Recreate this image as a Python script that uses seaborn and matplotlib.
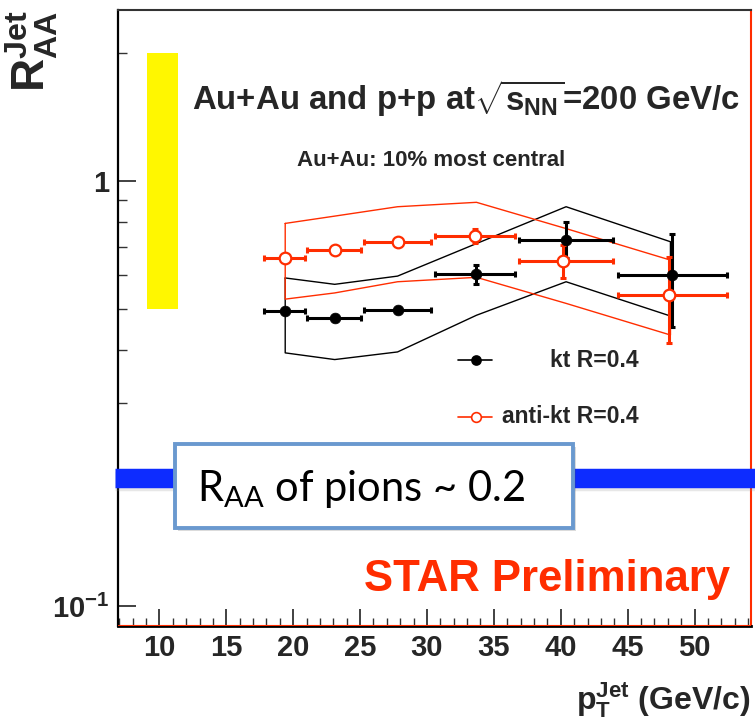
import matplotlib
matplotlib.use("Agg")
import matplotlib.pyplot as plt
import matplotlib.patheffects as pe
from matplotlib.patches import Rectangle
from matplotlib.ticker import FixedLocator, NullFormatter
import numpy as np
import pandas as pd
import seaborn as sns

# ---- data -------------------------------------------------------------
# kt R=0.4 : jet pT (mean of bin), R_AA, stat. limits
kt_pt = [19.4, 23.1, 27.8, 33.7, 40.4, 48.3]
kt_raa = [0.495, 0.475, 0.498, 0.603, 0.724, 0.599]
kt_raa_lo = [0.495, 0.475, 0.493, 0.571, 0.657, 0.454]
kt_raa_hi = [0.495, 0.475, 0.503, 0.634, 0.800, 0.748]

# anti-kt R=0.4
akt_pt = [19.4, 23.1, 27.8, 33.6, 40.2, 48.1]
akt_raa = [0.659, 0.687, 0.719, 0.741, 0.648, 0.539]
akt_raa_lo = [0.659, 0.687, 0.719, 0.713, 0.590, 0.416]
akt_raa_hi = [0.659, 0.687, 0.719, 0.770, 0.706, 0.663]

# jet pT bins shared by both algorithms
bin_lo = [17.8, 21.0, 25.3, 30.6, 36.9, 44.3]
bin_hi = [20.9, 25.1, 30.3, 36.6, 43.9, 52.4]

# systematic uncertainty envelopes
sys_pt = [19.4, 23.1, 27.8, 33.7, 40.4, 48.2]
kt_sys_hi = [0.591, 0.571, 0.597, 0.712, 0.869, 0.719]
kt_sys_lo = [0.394, 0.380, 0.396, 0.483, 0.579, 0.481]
akt_sys_hi = [0.794, 0.826, 0.869, 0.890, 0.772, 0.651]
akt_sys_lo = [0.527, 0.545, 0.579, 0.593, 0.515, 0.434]

# normalisation uncertainty box and pion reference
norm_pt = [9.1, 11.4]
norm_raa = [0.5, 2.0]
pion_raa = 0.2

x_ticks = [10, 15, 20, 25, 30, 35, 40, 45, 50]
y_ticks = [0.1, 1.0]
y_tick_labels = [r"$\mathbf{10^{-1}}$", "1"]

# ---- style --------------------------------------------------------------
sns.set_theme(style="ticks")
plt.rcParams["font.family"] = ["Liberation Sans", "DejaVu Sans"]
plt.rcParams["font.weight"] = "bold"
plt.rcParams["mathtext.fontset"] = "custom"
plt.rcParams["mathtext.rm"] = "Liberation Sans:bold"
plt.rcParams["mathtext.it"] = "Liberation Sans:bold"
plt.rcParams["mathtext.bf"] = "Liberation Sans:bold"
plt.rcParams["mathtext.sf"] = "Lato:normal"

RED = "#ff2d00"
BLACK = "#000000"

fig = plt.figure(figsize=(7.55, 7.21), dpi=100)
ax = fig.add_axes([0.1563, 0.1322, 0.838, 0.8539])
ax.set_yscale("log")
ax.set_xlim(6.9, 54.2)
ax.set_ylim(0.09, 2.52)

# normalisation uncertainty
ax.fill_between(norm_pt, norm_raa[0], norm_raa[1], color="#fff700", lw=0, zorder=1)

# systematic envelopes (closed outlines)
def envelope(x, lo, hi, color):
    xs = list(x) + list(x[::-1]) + [x[0]]
    ys = list(hi) + list(lo[::-1]) + [hi[0]]
    ax.plot(xs, ys, color=color, lw=1.0, zorder=2)

envelope(sys_pt, kt_sys_lo, kt_sys_hi, BLACK)
envelope(sys_pt, akt_sys_lo, akt_sys_hi, RED)

# statistical errors
def stat_bars(x, y, lo, hi, color):
    x = np.array(x); y = np.array(y)
    xerr = [x - np.array(bin_lo), np.array(bin_hi) - x]
    yerr = [y - np.array(lo), np.array(hi) - y]
    ax.errorbar(x, y, xerr=xerr, yerr=yerr, fmt="none", ecolor=color,
                elinewidth=2.2, capsize=2.5, capthick=2.2, zorder=3)

stat_bars(kt_pt, kt_raa, kt_raa_lo, kt_raa_hi, BLACK)
stat_bars(akt_pt, akt_raa, akt_raa_lo, akt_raa_hi, RED)

df_kt = pd.DataFrame({"pt": kt_pt, "raa": kt_raa})
df_akt = pd.DataFrame({"pt": akt_pt, "raa": akt_raa})
sns.scatterplot(data=df_kt, x="pt", y="raa", ax=ax, marker="o", s=60,
                color=BLACK, edgecolor=BLACK, linewidth=0.5, zorder=4)
sns.scatterplot(data=df_akt, x="pt", y="raa", ax=ax, marker="o", s=70,
                facecolor="white", edgecolor=RED, linewidth=1.6, zorder=4)

# pion reference band with soft shadow
ax.axhline(pion_raa, xmin=-0.005, xmax=1.01, color="#0d2cff", lw=14,
           solid_capstyle="butt", clip_on=False, zorder=5,
           path_effects=[pe.SimpleLineShadow(offset=(0, -2), shadow_color="#888888", alpha=0.2),
                         pe.Normal()])

# annotation box
box = Rectangle((0.090, 0.1587), 0.629, 0.136, transform=ax.transAxes,
                facecolor="white", edgecolor="#6a99cf", lw=2.8, zorder=6,
                path_effects=[pe.SimplePatchShadow(offset=(2, -2), alpha=0.2), pe.Normal()])
ax.add_patch(box)
ax.text(0.125, 0.202, r"$\mathsf{R_{AA}}$ of pions ~ 0.2", transform=ax.transAxes,
        fontfamily="Lato", fontweight="normal", fontsize=30, color="black",
        ha="left", va="baseline", zorder=7)

# texts
ax.text(0.117, 0.838, r"Au+Au and p+p at$\mathbf{\sqrt{s_{NN}}}$=200 GeV/c",
        transform=ax.transAxes, fontsize=23.8, fontweight="bold", ha="left", va="baseline")
ax.text(0.283, 0.7466, "Au+Au: 10% most central", transform=ax.transAxes,
        fontsize=16, fontweight="bold", ha="left", va="baseline")
ax.text(0.967, 0.0564, "STAR Preliminary", transform=ax.transAxes,
        fontsize=31.5, fontweight="bold", color=RED, ha="right", va="baseline")

# legend
for yl, mfc, lab, col in [(0.431, BLACK, "kt R=0.4", BLACK), (0.3395, "white", "anti-kt R=0.4", RED)]:
    ax.plot([0.537, 0.591], [yl, yl], transform=ax.transAxes, color=col, lw=1.2, zorder=4)
    ax.plot([0.566], [yl], transform=ax.transAxes, marker="o", ms=6.5 if mfc == BLACK else 7,
            mfc=mfc, mec=col, mew=1.2, zorder=5)
    ax.text(0.823, yl, lab, transform=ax.transAxes, fontsize=16.5, fontweight="bold",
            ha="right", va="center")

# axes, ticks
ax.xaxis.set_major_locator(FixedLocator(x_ticks))
ax.xaxis.set_minor_locator(FixedLocator(np.arange(7, 55, 1)))
ax.set_xticklabels([str(t) for t in x_ticks])
ax.yaxis.set_major_locator(FixedLocator(y_ticks))
ax.yaxis.set_minor_locator(FixedLocator([0.2, 0.3, 0.4, 0.5, 0.6, 0.7, 0.8, 0.9, 2.0]))
ax.yaxis.set_minor_formatter(NullFormatter())
ax.set_yticklabels(y_tick_labels)
ax.tick_params(axis="x", which="major", direction="in", length=12, width=1.3,
               labelsize=21, pad=6, top=False, color="#333333")
ax.tick_params(axis="x", which="minor", direction="in", length=6, width=1.0,
               top=False, color="#333333")
ax.tick_params(axis="y", which="major", direction="in", length=13, width=1.3,
               labelsize=21, pad=6, right=False, color="#333333")
ax.tick_params(axis="y", which="minor", direction="in", length=6.5, width=1.0,
               right=False, color="#333333")
for lab in ax.get_xticklabels() + ax.get_yticklabels():
    lab.set_fontweight("bold")

ax.spines["left"].set_linewidth(1.6)
ax.spines["left"].set_color("black")
ax.spines["bottom"].set_linewidth(2.0)
ax.spines["bottom"].set_color("black")
ax.spines["top"].set_linewidth(1.5)
ax.spines["top"].set_color("#333333")
ax.spines["right"].set_linewidth(1.5)
ax.spines["right"].set_color(RED)
ax.axhline(0.0905, color=RED, lw=0.8, zorder=8)

ax.set_xlabel(r"$\mathbf{p_{T}^{Jet}}$ (GeV/c)", fontsize=23, fontweight="bold", loc="right")
ax.xaxis.set_label_coords(1.0, -0.088)
ax.set_ylabel(r"$\mathbf{R^{Jet}_{AA}}$", fontsize=33, fontweight="bold", loc="top")
ax.yaxis.set_label_coords(-0.092, 1.0)

fig.savefig("out.png", dpi=100)
